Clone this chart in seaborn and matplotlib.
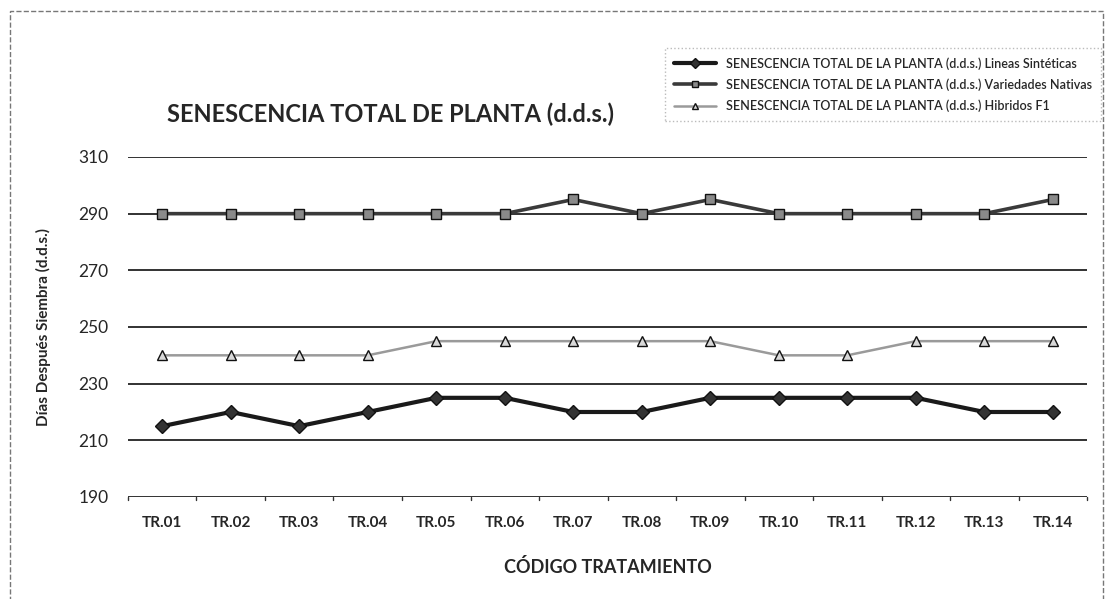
import pandas as pd
import seaborn as sns
import matplotlib.pyplot as plt
from matplotlib.patches import Rectangle

codigos = ["TR.01", "TR.02", "TR.03", "TR.04", "TR.05", "TR.06", "TR.07",
           "TR.08", "TR.09", "TR.10", "TR.11", "TR.12", "TR.13", "TR.14"]
lineas = [215, 220, 215, 220, 225, 225, 220, 220, 225, 225, 225, 225, 220, 220]
nativas = [290, 290, 290, 290, 290, 290, 295, 290, 295, 290, 290, 290, 290, 295]
hibridos = [240, 240, 240, 240, 245, 245, 245, 245, 245, 240, 240, 245, 245, 245]
series = ["SENESCENCIA TOTAL DE LA PLANTA (d.d.s.) Lineas Sintéticas",
          "SENESCENCIA TOTAL DE LA PLANTA (d.d.s.) Variedades Nativas",
          "SENESCENCIA TOTAL DE LA PLANTA (d.d.s.) Hibridos F1"]
y_ticks = [190, 210, 230, 250, 270, 290, 310]

frames = []
for name, vals in zip(series, [lineas, nativas, hibridos]):
    frames.append(pd.DataFrame({"codigo": codigos, "dds": vals, "serie": name}))
df = pd.concat(frames)
df["pos"] = df["codigo"].map({c: i for i, c in enumerate(codigos)})

sns.set_style("white")
plt.rcParams["font.family"] = ["Lato", "DejaVu Sans"]

fig = plt.figure(figsize=(11.05, 5.99), dpi=100)
ax = fig.add_axes([0.1158, 0.1703, 0.868, 0.5676])

palette = {series[0]: "#1a1a1a", series[1]: "#3a3a3a", series[2]: "#9a9a9a"}
markers = {series[0]: "D", series[1]: "s", series[2]: "^"}
sns.lineplot(data=df, x="pos", y="dds", hue="serie", style="serie",
             palette=palette, markers=markers, dashes=False, ax=ax,
             markersize=7, legend=False, zorder=3)
widths = [3.0, 2.6, 1.8]
faces = ["#333333", "#8a8a8a", "#d8d8d8"]
for line, w, fc in zip(ax.get_lines(), widths, faces):
    line.set_linewidth(w)
    line.set_markerfacecolor(fc)
    line.set_markeredgecolor("#111111")
    line.set_markeredgewidth(1.0)

ax.set_xlim(-0.5, len(codigos) - 0.5)
ax.set_ylim(190, 310)
ax.set_yticks(y_ticks)
ax.set_xticks(range(len(codigos)))
ax.set_xticklabels(codigos, fontsize=11, fontweight="bold")
ax.tick_params(axis="y", labelsize=12.5, length=0, pad=14)
ax.tick_params(axis="x", length=0, pad=14)
for yv in y_ticks:
    ax.axhline(yv, color="#222222", lw=1.3, zorder=1)
for i in range(len(codigos) + 1):
    ax.plot([i - 0.5, i - 0.5], [190, 189], color="#333333", lw=1, clip_on=False)
for s in ax.spines.values():
    s.set_visible(False)

ax.set_xlabel("CÓDIGO TRATAMIENTO", fontsize=13, fontweight="bold", labelpad=20)
ax.set_ylabel("Días Después Siembra (d.d.s.)", fontsize=11, fontweight="bold", labelpad=20)

fig.text(0.353, 0.81, "SENESCENCIA TOTAL DE PLANTA (d.d.s.)", fontsize=17,
         fontweight="bold", ha="center", va="center")

# legend box
handles = []
for line in ax.get_lines()[:3]:
    h, = ax.plot([], [], color=line.get_color(), lw=line.get_linewidth(),
                 marker=line.get_marker(), markersize=5,
                 markerfacecolor=line.get_markerfacecolor(), markeredgecolor="#111111")
    handles.append(h)
leg = fig.legend(handles, series, loc="upper left", bbox_to_anchor=(0.596, 0.93),
                 frameon=True, prop={"size": 9.0, "weight": "semibold"},
                 handlelength=3.4, labelspacing=0.7, borderpad=0.7, fancybox=False)
leg.get_frame().set_edgecolor("#aaaaaa")
leg.get_frame().set_linestyle(":")

fig.patches.append(Rectangle((10 / 1105, -0.05), 1093 / 1105, 1.05 - 11 / 599,
                             transform=fig.transFigure, fill=False,
                             edgecolor="#777777", lw=1, ls="--"))

fig.savefig("out.png", dpi=100)
